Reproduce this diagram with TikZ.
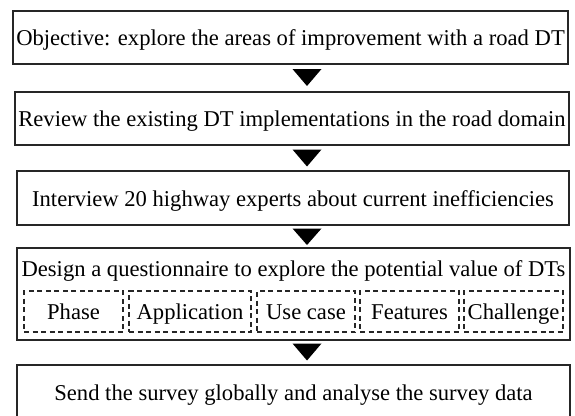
\documentclass[tikz,border=0pt]{standalone}
\usepackage{fontspec}
\setmainfont{Liberation Serif}
\begin{document}
\begin{tikzpicture}[x=1pt,y=-1pt,
  every node/.style={font=\fontsize{22.6}{27}\selectfont, inner sep=0pt, text height=20pt, text depth=4pt},
  stepbox/.style={draw=black!85, line width=1.7pt},
  subbox/.style={draw=black!85, line width=1.4pt, dash pattern=on 5pt off 3.5pt, minimum height=41pt},
  tri/.style={fill=black}]
\useasboundingbox (0,0) rectangle (575,415);
\node[stepbox, minimum width=555pt, minimum height=53pt] (b1) at (290.5,37.5) {Objective: explore the areas of improvement with a road DT};
\node[stepbox, minimum width=554pt, minimum height=53pt] (b2) at (292,118.5) {Review the existing DT implementations in the road domain};
\node[stepbox, minimum width=552pt, minimum height=54pt] (b3) at (293,198) {Interview 20 highway experts about current inefficiencies};
\node[stepbox, minimum width=553pt, minimum height=92pt] (b4) at (293.5,294) {};
\node (b4t) at (293.5,268) {Design a questionnaire to explore the potential value of DTs};
\node[subbox, minimum width=99pt] (s1) at (73.5,311.5) {Phase};
\node[subbox, minimum width=122pt] (s2) at (190,311.5) {Application};
\node[subbox, minimum width=98pt] (s3) at (306,311.5) {Use case};
\node[subbox, minimum width=99pt] (s4) at (409.5,311.5) {Features};
\node[subbox, minimum width=99pt] (s5) at (513.5,311.5) {Challenge};
\node[stepbox, minimum width=553pt, minimum height=54pt] (b5) at (293.5,392) {Send the survey globally and analyse the survey data};
% arrowheads between the steps
\fill[tri] (292.5,69) -- (321.5,69) -- (307,86) -- cycle;
\fill[tri] (292.5,149.5) -- (321.5,149.5) -- (307,166.5) -- cycle;
\fill[tri] (292.5,228.5) -- (321.5,228.5) -- (307,245) -- cycle;
\fill[tri] (292.5,343.5) -- (321.5,343.5) -- (307,360.5) -- cycle;
\end{tikzpicture}
\end{document}
